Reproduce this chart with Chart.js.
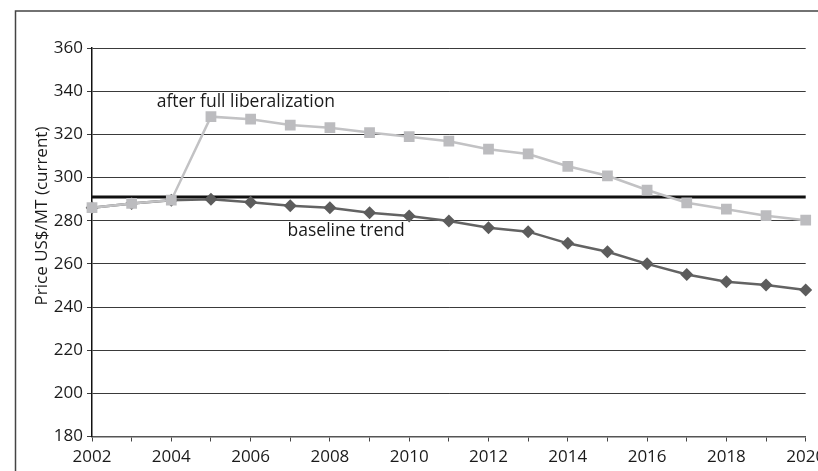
<!DOCTYPE html>
<html><head><meta charset="utf-8">
<script src="https://cdn.jsdelivr.net/npm/chart.js@4/dist/chart.umd.min.js"></script>
<style>html,body{margin:0;padding:0;background:#fff;}#wrap{width:818px;height:471px;position:relative;}</style>
</head><body><div id="wrap"><canvas id="c" width="818" height="471"></canvas></div>
<script>
const years = ['2002','2003','2004','2005','2006','2007','2008','2009','2010','2011','2012','2013','2014','2015','2016','2017','2018','2019','2020'];
const afterLiberalization = [286, 288, 289.5, 328.2, 327, 324.3, 323.1, 320.8, 318.9, 316.8, 313.1, 310.9, 305.2, 300.8, 294.2, 288.3, 285.3, 282.3, 280.2];
const baselineTrend = [286, 288, 289.5, 289.9, 288.5, 286.9, 286, 283.7, 282.2, 279.8, 276.7, 274.9, 269.5, 265.6, 260, 255.1, 251.7, 250.2, 247.9];
const referenceLevel = 291;
const yTickValues = [180, 200, 220, 240, 260, 280, 300, 320, 340, 360];
const seriesNames = ['after full liberalization', 'baseline trend'];
const yTitle = 'Price US$/MT (current)';

const FONT = "'Open Sans', 'Liberation Sans', Arial, sans-serif";
const TEXT = '#1a1a1a';

const decor = {
  id: 'decor',
  beforeDraw(chart) {
    const ctx = chart.ctx;
    ctx.save();
    ctx.fillStyle = '#fff';
    ctx.fillRect(0, 0, chart.width, chart.height);
    ctx.strokeStyle = '#444';
    ctx.lineWidth = 1.5;
    ctx.beginPath();
    ctx.moveTo(15.5, chart.height);
    ctx.lineTo(15.5, 11);
    ctx.lineTo(chart.width, 11);
    ctx.stroke();
    ctx.restore();
  },
  afterDraw(chart) {
    const ctx = chart.ctx;
    const xs = chart.scales.x, ys = chart.scales.y;
    ctx.save();
    ctx.fillStyle = TEXT;
    ctx.font = '17.5px ' + FONT;
    ctx.textAlign = 'center';
    ctx.textBaseline = 'middle';
    ctx.fillText(seriesNames[0], xs.getPixelForValue(3.88), ys.getPixelForValue(335));
    ctx.fillText(seriesNames[1], xs.getPixelForValue(6.41), ys.getPixelForValue(275.1));
    ctx.font = '17px ' + FONT;
    ctx.translate(42, chart.chartArea.top + 168);
    ctx.rotate(-Math.PI / 2);
    ctx.fillText(yTitle, 0, 0);
    ctx.restore();
  }
};

new Chart(document.getElementById('c'), {
  type: 'line',
  data: {
    labels: years,
    datasets: [
      {
        label: seriesNames[0],
        data: afterLiberalization,
        borderColor: '#c2c2c4',
        borderWidth: 2.5,
        pointStyle: 'rect',
        pointRadius: 7.6,
        pointBackgroundColor: '#bcbcbf',
        pointBorderWidth: 0,
        tension: 0
      },
      {
        label: seriesNames[1],
        data: baselineTrend,
        borderColor: '#636363',
        borderWidth: 2.5,
        pointStyle: 'rectRot',
        pointRadius: 6.5,
        pointBackgroundColor: '#5c5c5c',
        pointBorderWidth: 0,
        tension: 0
      },
      {
        label: 'reference',
        data: years.map(() => referenceLevel),
        borderColor: '#111',
        borderWidth: 3,
        pointRadius: 0,
        tension: 0
      }
    ]
  },
  options: {
    responsive: false,
    animation: false,
    devicePixelRatio: 1,
    layout: { autoPadding: false, padding: { top: 48, right: 12.3, left: 0, bottom: 0 } },
    plugins: { legend: { display: false }, tooltip: { enabled: false } },
    scales: {
      x: {
        type: 'category',
        offset: false,
        grid: { display: true, drawOnChartArea: false, drawTicks: true, tickLength: 5, color: '#444', lineWidth: 1 },
        border: { display: true, color: '#555', width: 1.5 },
        ticks: {
          autoSkip: false, maxRotation: 0, minRotation: 0, padding: 5,
          color: TEXT, font: { family: FONT, size: 17 },
          callback: (v, i) => (i % 2 === 0 ? years[i] : '')
        },
        afterFit: s => { s.height = 34.5; s.paddingLeft = 0; s.paddingRight = 0; }
      },
      y: {
        min: 180, max: 360,
        afterBuildTicks: s => { s.ticks = yTickValues.map(v => ({ value: v })); },
        grid: { color: '#3a3a3a', lineWidth: 1, tickLength: 5, drawTicks: true },
        border: { display: true, color: '#111', width: 1.5 },
        ticks: { padding: 4, color: TEXT, font: { family: FONT, size: 17 } },
        afterFit: s => { s.width = 92; s.paddingTop = 0; s.paddingBottom = 0; }
      }
    }
  },
  plugins: [decor]
});
</script>
</body></html>
